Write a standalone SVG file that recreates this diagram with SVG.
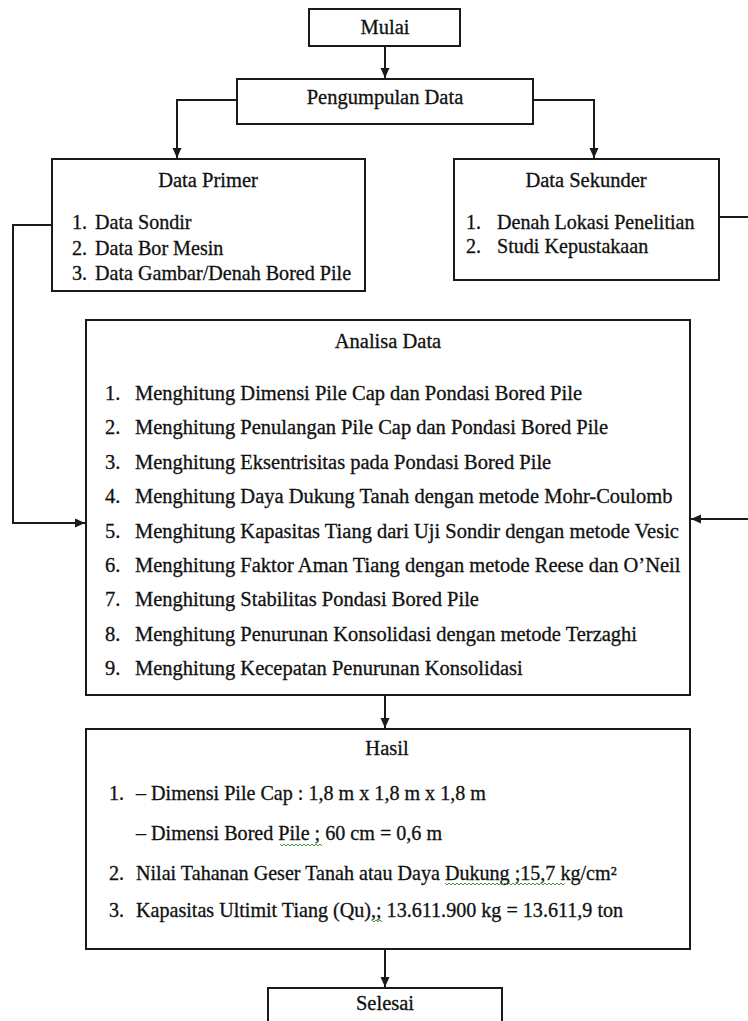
<svg xmlns="http://www.w3.org/2000/svg" width="748" height="1021" viewBox="0 0 748 1021" font-family="Liberation Serif, serif" font-size="20.5">
<style>
.box{fill:#fff;stroke:#1a1a1a;stroke-width:2}
.ln{fill:none;stroke:#1a1a1a;stroke-width:2}
.t{fill:#111;stroke:#111;stroke-width:0.3}
.s{font-size:20.1px}
.c{text-anchor:middle}
.sq{fill:none;stroke:#3c9a2e;stroke-width:1}
</style>
<defs>
<marker id="ah" markerUnits="userSpaceOnUse" markerWidth="10" markerHeight="10" refX="10" refY="5" orient="auto">
<path d="M0,0.5 L10,5 L0,9.5 z" fill="#1a1a1a"/>
</marker>
</defs>
<rect width="748" height="1021" fill="#fff"/>
<g id="connectors">
<path class="ln" d="M385,46 V78" marker-end="url(#ah)"/>
<path class="ln" d="M237,100 H177 V158" marker-end="url(#ah)"/>
<path class="ln" d="M533,100 H594 V158" marker-end="url(#ah)"/>
<path class="ln" d="M52,225 H13 V523 H85" marker-end="url(#ah)"/>
<path class="ln" d="M719,217 H750"/>
<path class="ln" d="M750,519 H691" marker-end="url(#ah)"/>
<path class="ln" d="M385,695 V728" marker-end="url(#ah)"/>
<path class="ln" d="M385,949 V987" marker-end="url(#ah)"/>
</g>
<g id="mulai">
<rect class="box" x="309" y="9" width="151" height="37"/>
<text class="t c" x="385" y="34">Mulai</text>
</g>
<g id="pengumpulan">
<rect class="box" x="237" y="79" width="296" height="45"/>
<text class="t c" x="385" y="104">Pengumpulan Data</text>
</g>
<g id="primer">
<rect class="box" x="52" y="159" width="313" height="132"/>
<text class="t c" x="208" y="187">Data Primer</text>
<text class="t s" y="229"><tspan x="72">1.</tspan><tspan x="95">Data Sondir</tspan></text>
<text class="t s" y="255"><tspan x="72">2.</tspan><tspan x="95">Data Bor Mesin</tspan></text>
<text class="t s" y="280"><tspan x="72">3.</tspan><tspan x="95">Data Gambar/Denah Bored Pile</tspan></text>
</g>
<g id="sekunder">
<rect class="box" x="454" y="159" width="265" height="121"/>
<text class="t c" x="586" y="187">Data Sekunder</text>
<text class="t s" y="229"><tspan x="466">1.</tspan><tspan x="497">Denah Lokasi Penelitian</tspan></text>
<text class="t s" y="253"><tspan x="466">2.</tspan><tspan x="497">Studi Kepustakaan</tspan></text>
</g>
<g id="analisa">
<rect class="box" x="86" y="320" width="604" height="375"/>
<text class="t c" x="388" y="348">Analisa Data</text>
<text class="t" y="400"><tspan x="105">1.</tspan><tspan x="135">Menghitung Dimensi Pile Cap dan Pondasi Bored Pile</tspan></text>
<text class="t" y="434.4"><tspan x="105">2.</tspan><tspan x="135">Menghitung Penulangan Pile Cap dan Pondasi Bored Pile</tspan></text>
<text class="t" y="468.8"><tspan x="105">3.</tspan><tspan x="135">Menghitung Eksentrisitas pada Pondasi Bored Pile</tspan></text>
<text class="t" y="503.2"><tspan x="105">4.</tspan><tspan x="135">Menghitung Daya Dukung Tanah dengan metode Mohr-Coulomb</tspan></text>
<text class="t" y="537.6"><tspan x="105">5.</tspan><tspan x="135">Menghitung Kapasitas Tiang dari Uji Sondir dengan metode Vesic</tspan></text>
<text class="t" y="572"><tspan x="105">6.</tspan><tspan x="135">Menghitung Faktor Aman Tiang dengan metode Reese dan O’Neil</tspan></text>
<text class="t" y="606.4"><tspan x="105">7.</tspan><tspan x="135">Menghitung Stabilitas Pondasi Bored Pile</tspan></text>
<text class="t" y="640.8"><tspan x="105">8.</tspan><tspan x="135">Menghitung Penurunan Konsolidasi dengan metode Terzaghi</tspan></text>
<text class="t" y="675.2"><tspan x="105">9.</tspan><tspan x="135">Menghitung Kecepatan Penurunan Konsolidasi</tspan></text>
</g>
<g id="hasil">
<rect class="box" x="86" y="729" width="604" height="220"/>
<text class="t c" x="387" y="755">Hasil</text>
<text class="t s" y="800"><tspan x="109">1.</tspan><tspan x="136">– Dimensi Pile Cap : 1,8 m x 1,8 m x 1,8 m</tspan></text>
<text class="t s" y="840"><tspan x="136">– Dimensi Bored Pile ; 60 cm = 0,6 m</tspan></text>
<text class="t s" y="880"><tspan x="109">2.</tspan><tspan x="136">Nilai Tahanan Geser Tanah atau Daya Dukung ;15,7 kg/cm²</tspan></text>
<text class="t s" y="917"><tspan x="109">3.</tspan><tspan x="136">Kapasitas Ultimit Tiang (Qu),; 13.611.900 kg = 13.611,9 ton</tspan></text>
<path class="sq" d="M280,844 l2,2 l2,-2 l2,2 l2,-2 l2,2 l2,-2 l2,2 l2,-2 l2,2 l2,-2 l2,2 l2,-2 l2,2 l2,-2 l2,2 l2,-2 l2,2 l2,-2 l2,2 l2,-2 l2,2"/>
<path class="sq" d="M445,883 l2,2 l2,-2 l2,2 l2,-2 l2,2 l2,-2 l2,2 l2,-2 l2,2 l2,-2 l2,2 l2,-2 l2,2 l2,-2 l2,2 l2,-2 l2,2 l2,-2 l2,2 l2,-2 l2,2 l2,-2 l2,2 l2,-2 l2,2 l2,-2 l2,2 l2,-2 l2,2 l2,-2 l2,2 l2,-2 l2,2 l2,-2 l2,2 l2,-2 l2,2 l2,-2 l2,2 l2,-2 l2,2 l2,-2 l2,2 l2,-2 l2,2 l2,-2 l2,2 l2,-2 l2,2 l2,-2 l2,2 l2,-2 l2,2 l2,-2 l2,2 l2,-2 l2,2 l2,-2 l2,2 l2,-2"/>
<path class="sq" d="M372,920 l2,2 l2,-2 l2,2 l2,-2 l2,2"/>
</g>
<g id="selesai">
<rect class="box" x="268" y="988" width="234" height="45"/>
<text class="t c" x="385" y="1010">Selesai</text>
</g>
</svg>
